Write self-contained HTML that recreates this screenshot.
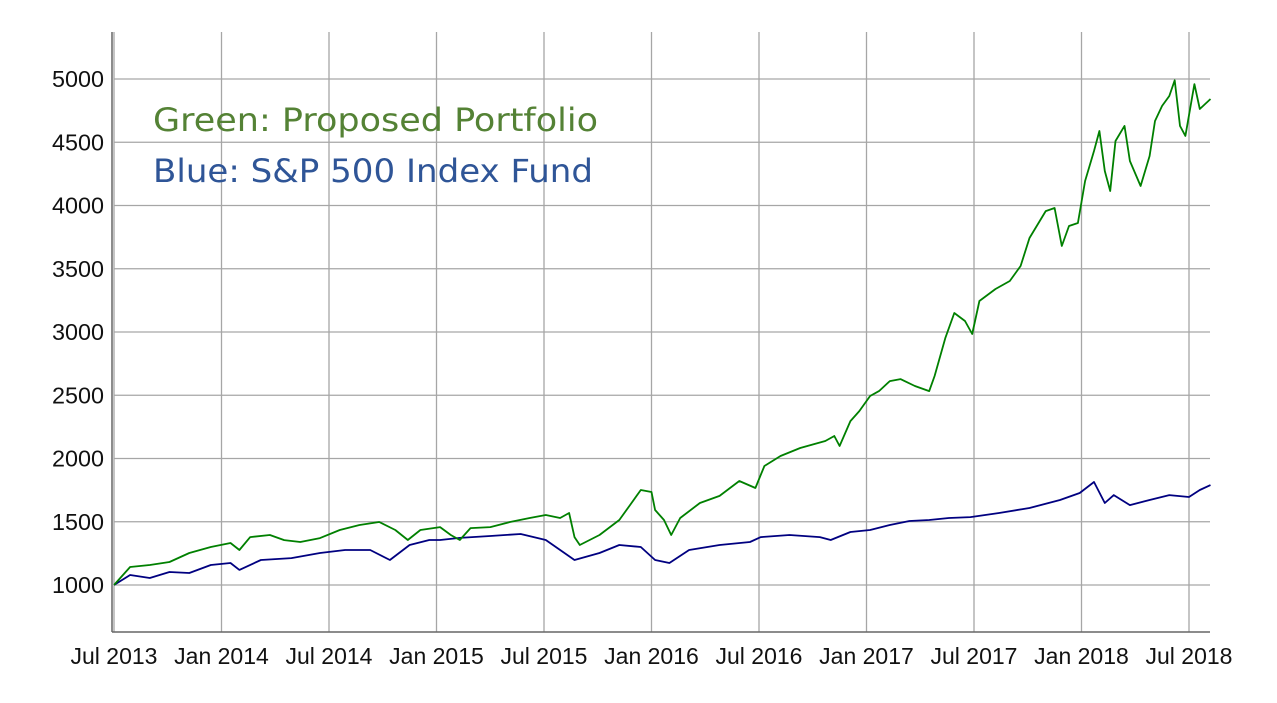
<!DOCTYPE html>
<html><head><meta charset="utf-8"><style>
html,body{margin:0;padding:0;background:#fff;}
svg{display:block;}
</style></head><body>
<svg id="chart" width="1277" height="703" viewBox="0 0 1277 703" xmlns="http://www.w3.org/2000/svg">
<g id="grid"></g>
<g id="axes"></g>
<g id="series"></g>
<text x="153" y="131" font-family="DejaVu Sans, sans-serif" font-size="32" fill="#548235" textLength="445" lengthAdjust="spacingAndGlyphs">Green: Proposed Portfolio</text>
<text x="153" y="182" font-family="DejaVu Sans, sans-serif" font-size="32" fill="#2f5597" textLength="440" lengthAdjust="spacingAndGlyphs">Blue: S&amp;P 500 Index Fund</text>
</svg>
<script>
const yTicks=[1000,1500,2000,2500,3000,3500,4000,4500,5000];
const xTickMonths=[0,6,12,18,24,30,36,42,48,54,60];
const xTickLabels=["Jul 2013","Jan 2014","Jul 2014","Jan 2015","Jul 2015","Jan 2016","Jul 2016","Jan 2017","Jul 2017","Jan 2018","Jul 2018"];
const greenMonths=[0,0.9,2.0,3.1,4.2,5.4,6.5,7.0,7.6,8.7,9.5,10.4,11.5,12.6,13.7,14.8,15.7,16.4,17.1,18.2,18.8,19.3,19.9,21.0,22.1,23.2,24.1,24.9,25.4,25.7,26.0,27.1,28.2,28.8,29.4,30.0,30.2,30.7,31.1,31.6,32.7,33.8,34.9,35.8,36.3,37.2,38.3,39.1,39.7,40.2,40.5,41.1,41.6,42.2,42.7,43.3,43.9,44.7,45.5,45.8,46.4,46.9,47.5,47.9,48.3,49.2,50.0,50.6,51.1,52.0,52.5,52.9,53.3,53.8,54.2,54.7,55.0,55.3,55.6,55.9,56.4,56.7,57.3,57.8,58.1,58.5,58.9,59.2,59.5,59.8,60.3,60.6,61.2];
const greenValues=[1000,1142,1158,1182,1253,1300,1332,1277,1379,1395,1355,1340,1371,1435,1474,1498,1435,1356,1435,1458,1395,1356,1450,1458,1498,1530,1553,1530,1569,1379,1316,1395,1514,1632,1751,1735,1593,1514,1395,1530,1648,1704,1822,1767,1941,2020,2083,2115,2138,2178,2099,2296,2375,2494,2533,2612,2628,2573,2533,2652,2952,3150,3087,2984,3245,3340,3403,3522,3743,3956,3980,3680,3838,3862,4194,4431,4589,4273,4115,4510,4629,4352,4154,4391,4668,4787,4866,4990,4629,4550,4960,4763,4842];
const blueMonths=[0,0.9,2.0,3.1,4.2,5.4,6.5,7.0,8.2,9.9,11.5,12.9,14.3,15.4,16.5,17.6,18.2,19.3,21.0,22.7,24.1,25.7,27.1,28.2,29.4,30.2,31.0,32.1,33.8,35.5,36.1,37.7,39.4,40.0,41.1,42.2,43.3,44.4,45.5,46.6,47.8,49.4,51.1,52.8,53.9,54.7,55.3,55.8,56.7,57.8,58.9,60.0,60.6,61.2];
const blueValues=[1000,1079,1055,1103,1095,1158,1174,1119,1198,1213,1253,1277,1277,1198,1316,1356,1356,1372,1387,1403,1356,1198,1253,1316,1300,1198,1174,1277,1316,1340,1379,1395,1379,1356,1419,1435,1474,1506,1514,1530,1537,1569,1609,1672,1727,1814,1648,1711,1632,1672,1711,1696,1751,1790];

const NS="http://www.w3.org/2000/svg";
const X0=114,PXM=107.5/6,XR=1210,YT=32,YB=632;
function xs(m){return X0+m*PXM;}
function ys(v){return 585-(v-1000)*63.25/500;}
function mk(tag,attrs,parent){const e=document.createElementNS(NS,tag);for(const k in attrs)e.setAttribute(k,attrs[k]);parent.appendChild(e);return e;}
const grid=document.getElementById('grid'),axes=document.getElementById('axes'),series=document.getElementById('series');
yTicks.forEach(v=>{
  const l=mk('line',{x1:X0,x2:XR,y1:ys(v),y2:ys(v),stroke:'#a6a6a6','stroke-width':1.3},grid);
  
  
  const t=mk('text',{x:104,y:ys(v)+8,'text-anchor':'end','font-family':'Liberation Sans, sans-serif','font-size':23,fill:'#111',textLength:52,lengthAdjust:'spacingAndGlyphs'},axes);
  
  
  t.textContent=v;
});
xTickMonths.forEach((m,i)=>{
  const l=mk('line',{x1:xs(m),x2:xs(m),y1:YT,y2:YB,stroke:'#a6a6a6','stroke-width':1.3},grid);
  
  
  const t=mk('text',{x:xs(m),y:664,'text-anchor':'middle','font-family':'Liberation Sans, sans-serif','font-size':23,fill:'#111'},axes);
  
  
  t.textContent=xTickLabels[i];
});
const ax=mk('line',{x1:112,x2:112,y1:YT,y2:YB,stroke:'#666','stroke-width':1.5},axes);


const bx=mk('line',{x1:112,x2:XR,y1:YB,y2:YB,stroke:'#666','stroke-width':1.5},axes);


function path(ms,vs){return ms.map((m,i)=>(i?'L':'M')+xs(m).toFixed(1)+','+ys(vs[i]).toFixed(1)).join('');}
const bl=mk('path',{d:path(blueMonths,blueValues),fill:'none',stroke:'#000080','stroke-width':1.8,'stroke-linejoin':'round'},series);


const gl=mk('path',{d:path(greenMonths,greenValues),fill:'none',stroke:'#008000','stroke-width':1.8,'stroke-linejoin':'round'},series);


</script>
</body></html>
